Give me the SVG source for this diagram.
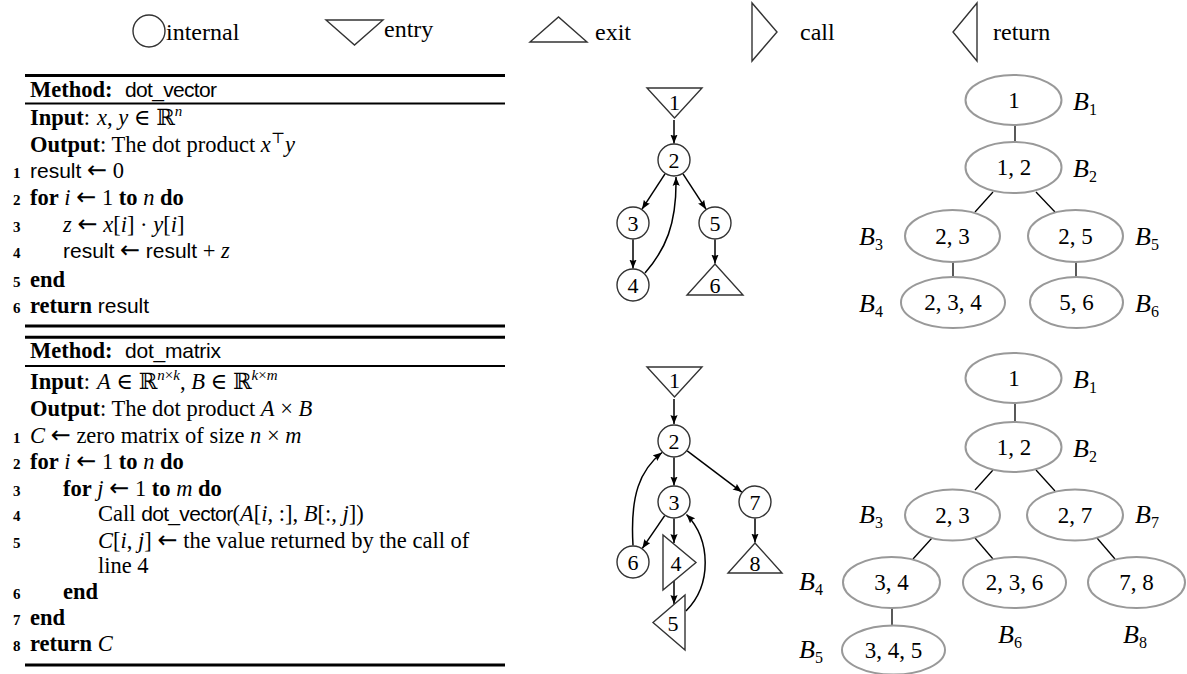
<svg xmlns="http://www.w3.org/2000/svg" width="1187" height="674" viewBox="0 0 1187 674">
<style>
text{font-family:"Liberation Serif","DejaVu Serif",serif;fill:#000}
.lg{font-size:24px}
.a{font-size:22.5px}
.b{font-weight:bold}
.i{font-style:italic}
.s{font-family:"Liberation Sans","DejaVu Sans",sans-serif;font-size:21px}
.ar{font-family:"DejaVu Sans",sans-serif;font-size:24px}
.ln{font-size:15px;font-weight:bold}
.sup{font-size:15px}
.nd{fill:#fff;stroke:#333;stroke-width:1.4}
.nl{font-size:22px;text-anchor:middle}
.el{fill:#fff;stroke:#999;stroke-width:2}
.tl{font-size:23px;text-anchor:middle}
.bl{font-size:26px;font-style:italic}
.bs{font-size:16px;font-style:normal}
.rh{stroke:#000;stroke-width:3}
.rt{stroke:#000;stroke-width:2}
.e{fill:none;stroke:#000;stroke-width:1.5}
.te{stroke:#000;stroke-width:1.3}
</style>
<defs>
<marker id="ah" viewBox="0 0 10 8" refX="10" refY="4" markerWidth="9" markerHeight="7.5" orient="auto" markerUnits="userSpaceOnUse">
<path d="M0,0 L10,4 L0,8 Q2.5,4 0,0z" fill="#000"/>
</marker>
</defs>

<g id="legend">
<circle class="nd" cx="149" cy="31" r="16"/>
<text class="lg" x="166" y="40">internal</text>
<polygon class="nd" points="326,20 383,20 354.5,45"/>
<text class="lg" x="384" y="37">entry</text>
<polygon class="nd" points="530,42 587,42 558.5,17"/>
<text class="lg" x="595" y="40">exit</text>
<polygon class="nd" points="752,3 752,61 777,32"/>
<text class="lg" x="800" y="40">call</text>
<polygon class="nd" points="977,3 977,61 953,32"/>
<text class="lg" x="993" y="40">return</text>
</g>

<g id="algo1">
<line class="rh" x1="25" y1="75.5" x2="505" y2="75.5"/>
<text class="a" x="30" y="97"><tspan class="b">Method:</tspan><tspan class="s" x="125" textLength="92">dot_vector</tspan></text>
<line class="rt" x1="25" y1="103.5" x2="505" y2="103.5"/>
<text class="a" x="30" y="125"><tspan class="b">Input</tspan>:<tspan class="i" x="97">x</tspan>, <tspan class="i">y</tspan> ∈ ℝ<tspan class="i sup" dy="-9">n</tspan></text>
<text class="a" x="30" y="152"><tspan class="b">Output</tspan>: The dot product <tspan class="i">x</tspan><tspan class="sup" dy="-9">⊤</tspan><tspan class="i" dy="9">y</tspan></text>
<text class="ln" x="13" y="178">1</text>
<text class="a" x="30" y="178"><tspan class="s">result</tspan> <tspan class="ar">←</tspan> 0</text>
<text class="ln" x="13" y="205">2</text>
<text class="a" x="30" y="205"><tspan class="b">for</tspan> <tspan class="i">i</tspan> <tspan class="ar">←</tspan> 1 <tspan class="b">to</tspan> <tspan class="i">n</tspan> <tspan class="b">do</tspan></text>
<text class="ln" x="13" y="232">3</text>
<text class="a" x="63" y="232"><tspan class="i">z</tspan> <tspan class="ar">←</tspan> <tspan class="i">x</tspan>[<tspan class="i">i</tspan>] · <tspan class="i">y</tspan>[<tspan class="i">i</tspan>]</text>
<text class="ln" x="13" y="258">4</text>
<text class="a" x="63" y="258"><tspan class="s">result</tspan> <tspan class="ar">←</tspan> <tspan class="s">result</tspan> + <tspan class="i">z</tspan></text>
<text class="ln" x="13" y="287">5</text>
<text class="a b" x="30" y="287">end</text>
<text class="ln" x="13" y="313">6</text>
<text class="a" x="30" y="313"><tspan class="b">return</tspan> <tspan class="s">result</tspan></text>
<line class="rh" x1="25" y1="326" x2="505" y2="326"/>
</g>

<g id="algo2">
<line class="rh" x1="25" y1="337.3" x2="505" y2="337.3"/>
<text class="a" x="30" y="358"><tspan class="b">Method:</tspan><tspan class="s" x="125" textLength="96">dot_matrix</tspan></text>
<line class="rt" x1="25" y1="366" x2="505" y2="366"/>
<text class="a" x="30" y="389"><tspan class="b">Input</tspan>:<tspan class="i" x="97">A</tspan> ∈ ℝ<tspan class="sup" dy="-9"><tspan class="i">n</tspan>×<tspan class="i">k</tspan></tspan><tspan dy="9">, </tspan><tspan class="i">B</tspan> ∈ ℝ<tspan class="sup" dy="-9"><tspan class="i">k</tspan>×<tspan class="i">m</tspan></tspan></text>
<text class="a" x="30" y="416"><tspan class="b">Output</tspan>: The dot product <tspan class="i">A</tspan> × <tspan class="i">B</tspan></text>
<text class="ln" x="13" y="443">1</text>
<text class="a" x="30" y="443"><tspan class="i">C</tspan> <tspan class="ar">←</tspan> zero matrix of size <tspan class="i">n</tspan> × <tspan class="i">m</tspan></text>
<text class="ln" x="13" y="469">2</text>
<text class="a" x="30" y="469"><tspan class="b">for</tspan> <tspan class="i">i</tspan> <tspan class="ar">←</tspan> 1 <tspan class="b">to</tspan> <tspan class="i">n</tspan> <tspan class="b">do</tspan></text>
<text class="ln" x="13" y="496">3</text>
<text class="a" x="63" y="496"><tspan class="b">for</tspan> <tspan class="i">j</tspan> <tspan class="ar">←</tspan> 1 <tspan class="b">to</tspan> <tspan class="i">m</tspan> <tspan class="b">do</tspan></text>
<text class="ln" x="13" y="521">4</text>
<text class="a" x="98" y="521">Call <tspan class="s" textLength="92">dot_vector</tspan>(<tspan class="i">A</tspan>[<tspan class="i">i</tspan>, :], <tspan class="i">B</tspan>[:, <tspan class="i">j</tspan>])</text>
<text class="ln" x="13" y="548">5</text>
<text class="a" x="98" y="548"><tspan class="i">C</tspan>[<tspan class="i">i</tspan>, <tspan class="i">j</tspan>] <tspan class="ar">←</tspan> the value returned by the call of</text>
<text class="a" x="98" y="573">line 4</text>
<text class="ln" x="13" y="599">6</text>
<text class="a b" x="63" y="599">end</text>
<text class="ln" x="13" y="625">7</text>
<text class="a b" x="30" y="625">end</text>
<text class="ln" x="13" y="651">8</text>
<text class="a" x="30" y="651"><tspan class="b">return</tspan> <tspan class="i">C</tspan></text>
<line class="rh" x1="25" y1="665" x2="505" y2="665"/>
</g>

<g id="g1-connectors">
<line class="e" x1="674" y1="120" x2="674" y2="143.5" marker-end="url(#ah)"/>
<line class="e" x1="665" y1="173.8" x2="642" y2="209.2" marker-end="url(#ah)"/>
<line class="e" x1="683" y1="173.8" x2="706" y2="209.2" marker-end="url(#ah)"/>
<line class="e" x1="633" y1="239.5" x2="633" y2="268.5" marker-end="url(#ah)"/>
<line class="e" x1="715" y1="239.5" x2="715" y2="263.5" marker-end="url(#ah)"/>
<path class="e" d="M645,273 C665,250 677,225 676,177" marker-end="url(#ah)"/>
</g>
<g id="g1n1"><polygon class="nd" points="647,88 702,88 674.5,118"/><text class="nl" x="674.5" y="110">1</text></g>
<g id="g1n2"><circle class="nd" cx="674" cy="160" r="16"/><text class="nl" x="674" y="168">2</text></g>
<g id="g1n3"><circle class="nd" cx="633" cy="223" r="16"/><text class="nl" x="633" y="231">3</text></g>
<g id="g1n4"><circle class="nd" cx="633" cy="285" r="16"/><text class="nl" x="633" y="293">4</text></g>
<g id="g1n5"><circle class="nd" cx="715" cy="223" r="16"/><text class="nl" x="715" y="231">5</text></g>
<g id="g1n6"><polygon class="nd" points="687,295 743,295 715,264"/><text class="nl" x="715" y="293">6</text></g>

<g id="g2-connectors">
<line class="e" x1="674" y1="399" x2="674" y2="424" marker-end="url(#ah)"/>
<line class="e" x1="674" y1="457.5" x2="674" y2="485.5" marker-end="url(#ah)"/>
<line class="e" x1="687.2" y1="450.9" x2="741.8" y2="492.1" marker-end="url(#ah)"/>
<line class="e" x1="755" y1="518.5" x2="755" y2="542.5" marker-end="url(#ah)"/>
<line class="e" x1="664.7" y1="515.6" x2="642.3" y2="548.4" marker-end="url(#ah)"/>
<line class="e" x1="674" y1="518.5" x2="674" y2="543" marker-end="url(#ah)"/>
<line class="e" x1="674" y1="581" x2="674" y2="604" marker-end="url(#ah)"/>
<path class="e" d="M633,545.5 C630,495 640,470 662,452.5" marker-end="url(#ah)"/>
<path class="e" d="M686,611 C712,585 711,540 686.5,514.5" marker-end="url(#ah)"/>
</g>
<g id="g2n1"><polygon class="nd" points="647,367 702,367 674.5,397"/><text class="nl" x="674.5" y="388">1</text></g>
<g id="g2n2"><circle class="nd" cx="674" cy="441" r="16"/><text class="nl" x="674" y="449">2</text></g>
<g id="g2n3"><circle class="nd" cx="674" cy="502" r="16"/><text class="nl" x="674" y="510">3</text></g>
<g id="g2n4"><polygon class="nd" points="663,535 663,590 696,562.5"/><text class="nl" x="676" y="571">4</text></g>
<g id="g2n5"><polygon class="nd" points="685,595 685,650 653,622.5"/><text class="nl" x="673" y="631">5</text></g>
<g id="g2n6"><circle class="nd" cx="633" cy="562" r="16"/><text class="nl" x="633" y="570">6</text></g>
<g id="g2n7"><circle class="nd" cx="755" cy="502" r="16"/><text class="nl" x="755" y="510">7</text></g>
<g id="g2n8"><polygon class="nd" points="728,573 782,573 755,543"/><text class="nl" x="755" y="571">8</text></g>

<g id="t1-connectors">
<line class="te" x1="1015" y1="125" x2="1015" y2="142"/>
<line class="te" x1="993" y1="192" x2="975" y2="212"/>
<line class="te" x1="1036" y1="192" x2="1055" y2="212"/>
<line class="te" x1="953" y1="262" x2="953" y2="277"/>
<line class="te" x1="1076" y1="262" x2="1076" y2="277"/>
</g>
<g id="t1b1"><ellipse class="el" cx="1013.5" cy="100" rx="48" ry="25"/><text class="tl" x="1014" y="108">1</text><text class="bl" x="1073" y="110">B<tspan class="bs" dy="5">1</tspan></text></g>
<g id="t1b2"><ellipse class="el" cx="1013.5" cy="167.5" rx="48" ry="25.5"/><text class="tl" x="1014" y="175">1, 2</text><text class="bl" x="1073" y="177">B<tspan class="bs" dy="5">2</tspan></text></g>
<g id="t1b3"><ellipse class="el" cx="952.5" cy="236" rx="47.5" ry="26"/><text class="tl" x="952.5" y="244">2, 3</text><text class="bl" x="859" y="245">B<tspan class="bs" dy="5">3</tspan></text></g>
<g id="t1b5"><ellipse class="el" cx="1075.5" cy="236" rx="47.5" ry="26"/><text class="tl" x="1075.5" y="244">2, 5</text><text class="bl" x="1135" y="245">B<tspan class="bs" dy="5">5</tspan></text></g>
<g id="t1b4"><ellipse class="el" cx="953" cy="302.5" rx="52" ry="25.5"/><text class="tl" x="953" y="310">2, 3, 4</text><text class="bl" x="859" y="312">B<tspan class="bs" dy="5">4</tspan></text></g>
<g id="t1b6"><ellipse class="el" cx="1076.5" cy="302.5" rx="46.5" ry="25.5"/><text class="tl" x="1076.5" y="310">5, 6</text><text class="bl" x="1135" y="312">B<tspan class="bs" dy="5">6</tspan></text></g>

<g id="t2-connectors">
<line class="te" x1="1015" y1="403" x2="1015" y2="422"/>
<line class="te" x1="993" y1="470" x2="975" y2="490"/>
<line class="te" x1="1036" y1="470" x2="1055" y2="491"/>
<line class="te" x1="932" y1="538" x2="913" y2="559"/>
<line class="te" x1="975" y1="538" x2="993" y2="559"/>
<line class="te" x1="1097" y1="538" x2="1115" y2="559"/>
<line class="te" x1="892" y1="608" x2="892" y2="625"/>
</g>
<g id="t2b1"><ellipse class="el" cx="1013.5" cy="378" rx="48" ry="25"/><text class="tl" x="1014" y="386">1</text><text class="bl" x="1073" y="388">B<tspan class="bs" dy="5">1</tspan></text></g>
<g id="t2b2"><ellipse class="el" cx="1013.5" cy="447" rx="48" ry="25"/><text class="tl" x="1014" y="455">1, 2</text><text class="bl" x="1073" y="457">B<tspan class="bs" dy="5">2</tspan></text></g>
<g id="t2b3"><ellipse class="el" cx="952.5" cy="515" rx="47.5" ry="25.5"/><text class="tl" x="952.5" y="523">2, 3</text><text class="bl" x="859" y="523">B<tspan class="bs" dy="5">3</tspan></text></g>
<g id="t2b7"><ellipse class="el" cx="1075" cy="515" rx="48" ry="25.5"/><text class="tl" x="1075" y="523">2, 7</text><text class="bl" x="1135" y="523">B<tspan class="bs" dy="5">7</tspan></text></g>
<g id="t2b4"><ellipse class="el" cx="891.5" cy="582.5" rx="48.5" ry="25.5"/><text class="tl" x="891.5" y="590">3, 4</text><text class="bl" x="799" y="590">B<tspan class="bs" dy="5">4</tspan></text></g>
<g id="t2b6"><ellipse class="el" cx="1014.5" cy="582.5" rx="51.5" ry="25.5"/><text class="tl" x="1014.5" y="590">2, 3, 6</text><text class="bl" x="998" y="643">B<tspan class="bs" dy="5">6</tspan></text></g>
<g id="t2b8"><ellipse class="el" cx="1136.5" cy="582.5" rx="48.5" ry="25.5"/><text class="tl" x="1136.5" y="590">7, 8</text><text class="bl" x="1123" y="643">B<tspan class="bs" dy="5">8</tspan></text></g>
<g id="t2b5"><ellipse class="el" cx="893.5" cy="650" rx="51.5" ry="24.5"/><text class="tl" x="893.5" y="658">3, 4, 5</text><text class="bl" x="799" y="658">B<tspan class="bs" dy="5">5</tspan></text></g>
</svg>
